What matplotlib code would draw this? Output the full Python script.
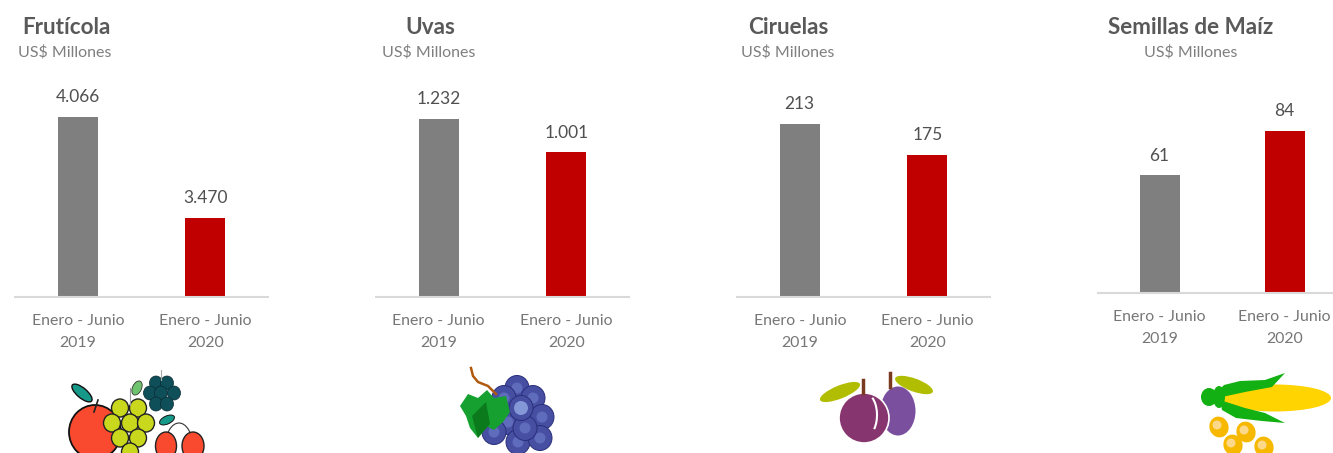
import matplotlib
matplotlib.use("Agg")
import matplotlib.pyplot as plt
from matplotlib.patches import Ellipse, Polygon, Arc

plt.rcParams["font.family"] = ["Lato", "DejaVu Sans"]

W, H = 1333, 453

# data
titles = ["Frutícola", "Uvas", "Ciruelas", "Semillas de Maíz"]
periods = ["Enero - Junio\n2019", "Enero - Junio\n2020"]
fruticola = [4066, 3470]
uvas = [1232, 1001]
ciruelas = [213, 175]
maiz = [61, 84]
all_values = [fruticola, uvas, ciruelas, maiz]
# the first panel has a cut y axis
y_limits = [(3004, 4343), (0, 1571), (0, 279.5), (0, 115.6)]

bar_colors = ["#7f7f7f", "#c00000"]

# pixel layout: left, right, baseline, title centre, bar width in axis units
panels = [
    (14, 269, 297, 66, 0.314),
    (375, 630, 297, 430, 0.314),
    (736, 991, 297, 788, 0.314),
    (1097, 1347, 293, 1191, 0.32),
]
sub_x = [65, 429, 788, 1191]
AX_TOP = 70

fig = plt.figure(figsize=(W / 100, H / 100), dpi=100, facecolor="white")

for i, vals in enumerate(all_values):
    left, right, base, tx, bw = panels[i]
    ax = fig.add_axes([left / W, 1 - base / H, (right - left) / W, (base - AX_TOP) / H])
    ax.bar([0, 1], vals, width=bw, color=bar_colors)
    ax.set_xlim(-0.5, 1.5)
    ax.set_ylim(*y_limits[i])
    ax.set_yticks([])
    ax.set_xticks([0, 1])
    ax.set_xticklabels(periods, fontsize=11.4, color="#767676", linespacing=1.65)
    ax.tick_params(axis="x", length=0, pad=12.5)
    for s in ["top", "left", "right"]:
        ax.spines[s].set_visible(False)
    ax.spines["bottom"].set_color("#d9d9d9")
    ax.spines["bottom"].set_linewidth(1.5)
    ax.spines["bottom"].set_capstyle("butt")
    ax.patch.set_alpha(0)
    for x, v in zip([0, 1], vals):
        ax.annotate(f"{v:,}".replace(",", "."), (x, v), xytext=(0, 8.5), textcoords="offset points",
                    ha="center", va="bottom", fontsize=12.5, color="#505050")
    fig.text(tx / W, 1 - 27 / H, titles[i], ha="center", va="center", fontsize=16.2,
             fontweight="bold", color="#595959")
    fig.text(sub_x[i] / W, 1 - 52 / H, "US$ Millones", ha="center", va="center", fontsize=11.5,
             color="#7f7f7f")

# icons, drawn on a full figure overlay in pixel coordinates
ico = fig.add_axes([0, 0, 1, 1], zorder=5)
ico.set_xlim(0, W)
ico.set_ylim(H, 0)
ico.axis("off")


def blob(x, y, w, h, color, edge="none", lw=1.0, angle=0):
    ico.add_patch(Ellipse((x, y), w, h, angle=angle, facecolor=color, edgecolor=edge, linewidth=lw))


def shape(points, color):
    ico.add_patch(Polygon(points, closed=True, facecolor=color, edgecolor="none"))


# fruit basket
ico.plot([94, 98], [412, 400], color="#222222", lw=1.2)
blob(82, 393, 25, 10, "#17998a", "#111111", 1.0, angle=40)
blob(95, 432, 52, 54, "#f94a2f", "#111111", 1.3)
ico.plot([130, 130], [405, 388], color="#999999", lw=0.8)
blob(137, 388, 9, 15, "#6fc36f", "#333333", 0.6, angle=25)
for x, y in [(120, 408), (138, 408), (112, 423), (130, 423), (146, 423), (120, 438), (138, 438), (130, 452)]:
    blob(x, y, 17, 18, "#c9d81c", "#222222", 1.0)
ico.plot([161, 161], [370, 380], color="#aaaaaa", lw=0.8)
for x, y in [(156, 383), (167, 383), (150, 393), (161, 393), (174, 393), (156, 404), (167, 404)]:
    blob(x, y, 13, 14, "#0f4f5a", "#0a2a30", 0.5)
blob(167, 420, 16, 8, "#17998a", "#111111", 0.7, angle=-25)
ico.add_patch(Arc((179, 446), 27, 46, theta1=180, theta2=360, color="#333333", lw=0.8))
blob(166, 446, 21, 28, "#f94a2f", "#222222", 1.0)
blob(193, 446, 22, 28, "#f94a2f", "#222222", 1.0)

# grapes
ico.plot([471, 473, 478, 488, 496], [368, 376, 382, 386, 394], color="#b05a10", lw=1.8)
for x, y in [(517, 388), (533, 398), (504, 398), (542, 417), (508, 422), (494, 432), (518, 442), (540, 438), (525, 428), (521, 408)]:
    blob(x, y, 24, 25, "#474fa3", "#2a2f7a", 0.7)
    blob(x, y, 11, 11, "#5f6bbb")
blob(521, 408, 14, 14, "#8497d6")
shape([(460, 406), (468, 394), (478, 398), (487, 390), (494, 398), (506, 396), (510, 412), (503, 422),
       (494, 430), (486, 426), (478, 438), (470, 428), (466, 416)], "#16a030")
shape([(478, 438), (472, 416), (486, 402), (490, 424)], "#0a7a1c")

# plums
blob(840, 392, 43, 13, "#b0bd00", angle=-22)
blob(914, 385, 40, 13, "#b0bd00", angle=20)
blob(898, 411, 35, 49, "#7a4f9d")
blob(864, 418, 50, 50, "#87356e", "white", 1.2)
ico.add_patch(Arc((866, 415), 22, 42, theta1=-70, theta2=60, color="white", lw=1.5))
ico.plot([863, 863], [380, 393], color="#7a3a20", lw=2.5)
ico.plot([890, 890], [373, 387], color="#7a3a20", lw=2.5)

# corn
blob(1275, 398, 112, 27, "#ffd400")
shape([(1216, 393), (1224, 385), (1240, 381), (1265, 380), (1285, 373), (1272, 387), (1245, 392), (1222, 397)], "#12b012")
shape([(1220, 400), (1245, 408), (1265, 413), (1285, 423), (1262, 421), (1236, 418), (1222, 410)], "#12b012")
blob(1209, 397, 16, 18, "#12b012")
blob(1219, 397, 12, 22, "#12b012")
for x, y in [(1219, 427), (1246, 432), (1233, 445), (1264, 447)]:
    blob(x, y, 19, 21, "#f7b800", angle=-20)
    blob(x - 2, y - 2, 9, 9, "#fcd98a")

fig.savefig("out.png", dpi=100)
